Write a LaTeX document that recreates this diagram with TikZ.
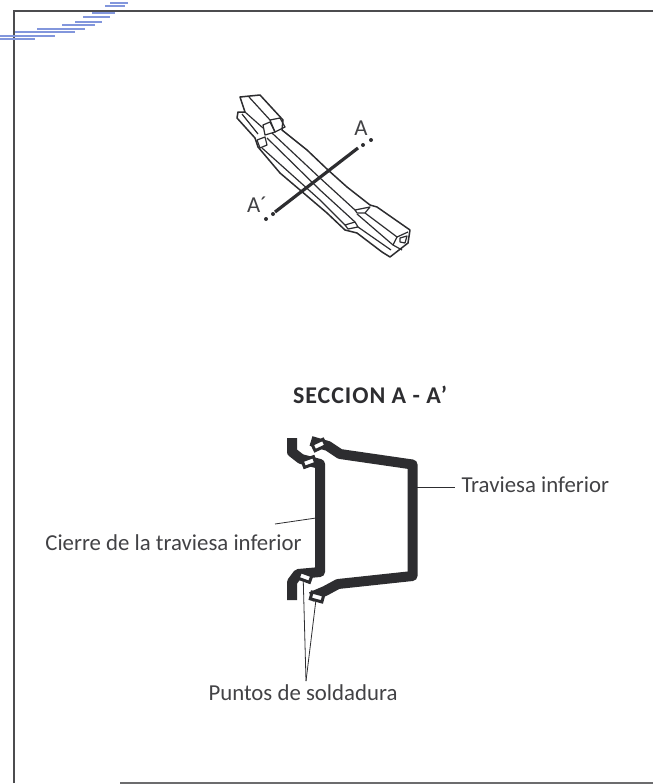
\documentclass[tikz,border=0pt]{standalone}
\usepackage{fontspec}
\setmainfont{Carlito}
\usetikzlibrary{positioning}
\definecolor{myink}{RGB}{45,45,48}
\definecolor{mystreak}{RGB}{130,150,220}
\tikzset{
    frameline/.style={draw=myink!85,line width=1.8pt},
    barline/.style={draw=myink,line width=1.5pt,line join=round},
    ribline/.style={draw=myink,line width=1.2pt,line join=round},
    sectionline/.style={draw=myink,line width=10pt,line join=round},
    spotbox/.style={draw=myink,line width=3pt,fill=white,minimum width=12pt,minimum height=7pt,inner sep=0pt},
    leaderline/.style={draw=myink,line width=0.8pt},
    callout/.style={text=myink!90,font=\fontsize{22.8}{26}\selectfont},
}
\begin{document}
\begin{tikzpicture}[x=1pt,y=-1pt]
    \useasboundingbox (0,0) rectangle (653,784);
    % frame
    \draw[frameline] (14,783) -- (14,11) -- (653,11);
    \draw[frameline,draw=myink!70] (120,783) -- (653,783);
    % blue streaks
    \foreach \xa/\xb/\ya in {110/128/3,105/125/6,92/115/13,83/110/17,75/102/22,62/95/25,37/85/29,15/75/32,0/55/36,0/35/39} {
        \draw[mystreak,line width=1.2pt] (\xa,\ya) -- (\xb,\ya);
    }
    % the beam
    \draw[barline,fill=white] (240,97) -- (260,95) -- (283,120) -- (282,130) -- (307,150) -- (328,170) -- (347,187) -- (370,205) -- (377,207) -- (410,230) -- (408,243) -- (390,257) -- (382,252) -- (357,233) -- (345,230) -- (327,213) -- (300,190) -- (280,173) -- (258,147) -- (255,138) -- (237,118) -- (238,112) -- (245,112) -- cycle;
    \draw[ribline] (249,97) -- (270,120);
    \draw[ribline] (245,112) -- (263,128);
    \draw[ribline] (242,114) -- (258,134);
    \draw[ribline] (270,120) -- (280,118) -- (285,127) -- (275,132) -- cycle;
    \draw[ribline] (263,125) -- (270,122) -- (275,132) -- (265,135) -- cycle;
    \draw[ribline] (257,140) -- (265,137) -- (267,145) -- (260,148) -- cycle;
    \draw[ribline] (272,133) -- (320,178) -- (355,210);
    \draw[ribline] (267,138) -- (320,190) -- (355,222);
    \draw[ribline] (262,148) -- (320,200) -- (345,225);
    \draw[ribline] (355,210) -- (370,207) -- (365,213) -- (357,213) -- cycle;
    \draw[ribline] (345,225) -- (355,222) -- (358,227) -- (348,229) -- cycle;
    \draw[ribline] (365,213) -- (397,237);
    \draw[ribline] (357,214) -- (393,245);
    \draw[ribline] (358,227) -- (391,250);
    \draw[ribline] (397,237) -- (408,232);
    \draw[ribline] (397,237) -- (393,245) -- (402,250);
    \draw[ribline] (400,238) -- (407,236) -- (405,243) -- (400,242) -- cycle;
    % cutting line
    \coordinate (cutA) at (358,148);
    \coordinate (cutB) at (275,212);
    \draw[myink,line width=3.2pt] (cutA) -- (cutB);
    \foreach \cx/\cy in {363/145,371/140,273/214,266/219} {
        \fill[myink] (\cx,\cy) circle (2pt);
    }
    \node[callout] (labelA) at (361,128) {A};
    \node[callout] (labelB) at (257,205) {A´};
    % section
    \node[text=myink,font=\fontsize{24}{28}\selectfont\bfseries\addfontfeature{LetterSpace=4}] (title) at (370,395) {SECCION A - A’};
    \draw[sectionline] (292,438) -- (292,452) -- (301,459) -- (320,464) -- (320,572) -- (298,574) -- (292,582) -- (292,600);
    \draw[sectionline] (311,441) -- (328,446) -- (340,454) -- (412.5,464.5) -- (412.5,576) -- (338,584) -- (325,591) -- (311,597);
    \node[spotbox,rotate=25] (spotA) at (319,445) {};
    \node[spotbox,rotate=20] (spotB) at (309,462) {};
    \node[spotbox,rotate=-20] (spotC) at (305,577) {};
    \node[spotbox,rotate=-15] (spotD) at (317,597) {};
    % labels
    \node[callout,anchor=west] (labelTop) at (458,485) {Traviesa inferior};
    \node[callout,anchor=east] (labelClose) at (305,543) {Cierre de la traviesa inferior};
    \node[callout] (labelWeld) at (303,693) {Puntos de soldadura};
    \coordinate (webHat) at (417,487);
    \coordinate (endHat) at (455,487);
    \coordinate (webClose) at (316,518);
    \coordinate (endClose) at (275,524);
    \coordinate (weldTip) at (306,681);
    \draw[leaderline] (webHat) -- (endHat);
    \draw[leaderline] (webClose) -- (endClose);
    \draw[leaderline] (spotC.south) -- (weldTip);
    \draw[leaderline] (spotD.south) -- (weldTip);
\end{tikzpicture}
\end{document}
